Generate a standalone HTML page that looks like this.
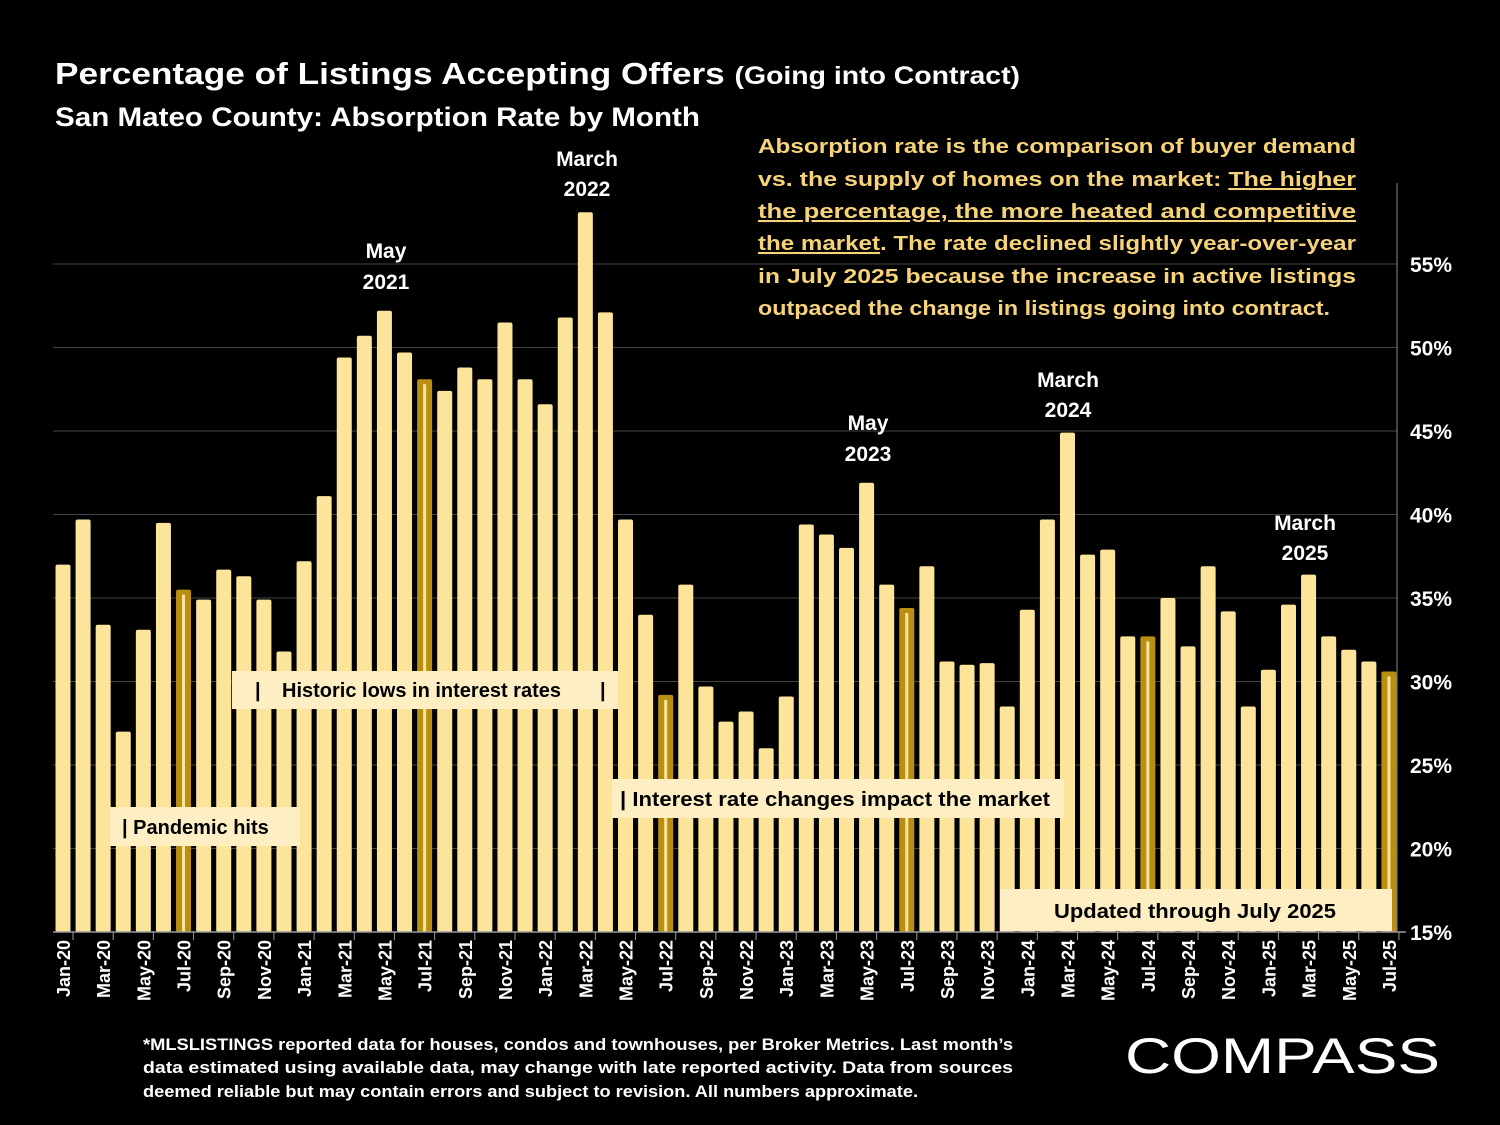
<!DOCTYPE html>
<html><head><meta charset="utf-8"><style>
body{margin:0;background:#000;width:1500px;height:1125px;overflow:hidden;font-family:"Liberation Sans",Arial,sans-serif}
svg{display:block}
</style></head><body>
<svg id="c" width="1500" height="1125">
<text x="55" y="84" fill="#fff" font-size="31" font-weight="bold" textLength="965" lengthAdjust="spacingAndGlyphs">Percentage of Listings Accepting Offers <tspan font-size="25">(Going into Contract)</tspan></text>
<text x="55" y="126" fill="#fff" font-size="27" font-weight="bold" textLength="645" lengthAdjust="spacingAndGlyphs">San Mateo County:  Absorption Rate by Month</text>
<g id="grid"></g><g id="bars"></g><g id="xlab"></g><g id="ylab"></g>
<line x1="1397" y1="183" x2="1397" y2="932" stroke="#888" stroke-width="1"/>
<line x1="53" y1="932" x2="1406" y2="932" stroke="#999" stroke-width="1.5"/>
<g font-size="21" font-weight="bold" fill="#fff" text-anchor="middle">
<text x="587" y="166">March</text><text x="587" y="196">2022</text>
<text x="386" y="258">May</text><text x="386" y="289">2021</text>
<text x="868" y="430">May</text><text x="868" y="461">2023</text>
<text x="1068" y="387">March</text><text x="1068" y="417">2024</text>
<text x="1305" y="530">March</text><text x="1305" y="560">2025</text>
</g>
<g font-size="20" font-weight="bold" fill="#000">
<rect x="232" y="671" width="386" height="38" fill="#fdefc3"/>
<text x="255" y="697">|</text>
<text x="282" y="697">Historic lows in interest rates</text>
<text x="600" y="697">|</text>
<rect x="110" y="807" width="190" height="39" fill="#fdefc3"/>
<text x="122" y="834">| Pandemic hits</text>
<rect x="612" y="779" width="452" height="39" fill="#fdefc3"/>
<text x="620" y="806" textLength="430" lengthAdjust="spacingAndGlyphs">| Interest rate changes impact the market</text>
<rect x="1000" y="889" width="392" height="42" fill="#fdefc3"/>
<text x="1195" y="918" text-anchor="middle" textLength="282" lengthAdjust="spacingAndGlyphs">Updated through July 2025</text>
</g>
<g font-size="20.5" font-weight="bold" fill="#f6d37a">
<text x="758" y="153" textLength="598" lengthAdjust="spacingAndGlyphs">Absorption rate is the comparison of buyer demand</text>
<text x="758" y="186" textLength="598" lengthAdjust="spacingAndGlyphs">vs. the supply of homes on the market: <tspan text-decoration="underline">The higher</tspan></text>
<text x="758" y="218" textLength="598" lengthAdjust="spacingAndGlyphs" text-decoration="underline">the percentage, the more heated and competitive</text>
<text x="758" y="250" textLength="598" lengthAdjust="spacingAndGlyphs"><tspan text-decoration="underline">the market</tspan>.  The rate declined slightly year-over-year</text>
<text x="758" y="283" textLength="598" lengthAdjust="spacingAndGlyphs">in July 2025 because the increase in active listings</text>
<text x="758" y="315" textLength="572" lengthAdjust="spacingAndGlyphs">outpaced the change in listings going into contract.</text>
</g>
<g font-size="17" font-weight="bold" fill="#fff">
<text x="143" y="1050" textLength="870" lengthAdjust="spacingAndGlyphs">*MLSLISTINGS reported data for houses, condos and townhouses, per Broker Metrics. Last month’s</text>
<text x="143" y="1073" textLength="870" lengthAdjust="spacingAndGlyphs">data estimated using available data, may change with late reported activity. Data from sources</text>
<text x="143" y="1097" textLength="775" lengthAdjust="spacingAndGlyphs">deemed reliable but may contain errors and subject to revision. All numbers approximate.</text>
</g>
<text x="1125" y="1073" fill="#fff" font-size="50" textLength="315" lengthAdjust="spacingAndGlyphs">COMPASS</text>
</svg>
<script>
const months=["Jan","Feb","Mar","Apr","May","Jun","Jul","Aug","Sep","Oct","Nov","Dec"];
const categories=[];for(let y=20;y<=25;y++)for(let m=0;m<12;m++){if(y===25&&m>6)break;categories.push(months[m]+"-"+y);}
const values=[37,39.7,33.4,27,33.1,39.5,35.5,34.9,36.7,36.3,34.9,31.8,
37.2,41.1,49.4,50.7,52.2,49.7,48.1,47.4,48.8,48.1,51.5,48.1,
46.6,51.8,58.1,52.1,39.7,34,29.2,35.8,29.7,27.6,28.2,26,
29.1,39.4,38.8,38,41.9,35.8,34.4,36.9,31.2,31,31.1,28.5,
34.3,39.7,44.9,37.6,37.9,32.7,32.7,35,32.1,36.9,34.2,28.5,
30.7,34.6,36.4,32.7,31.9,31.2,30.6];
const yTicks=[15,20,25,30,35,40,45,50,55];
const NS="http://www.w3.org/2000/svg";
const yS=v=>932-(v-15)*16.7;
const xS=i=>63+i*20.09;
const mk=(t,a,p)=>{const e=document.createElementNS(NS,t);for(const k in a)e.setAttribute(k,a[k]);p.appendChild(e);return e;};
const grid=document.getElementById('grid'),ylab=document.getElementById('ylab'),bars=document.getElementById('bars'),xlab=document.getElementById('xlab');
yTicks.forEach(v=>{
 const l=mk('line',{x1:53,x2:1397,y1:yS(v),y2:yS(v),stroke:'#444','stroke-width':1},grid);
 
 
 const t=mk('text',{x:1410,y:yS(v)+8,fill:'#fff','font-size':21,'font-weight':'bold'},ylab);
 t.textContent=v+'%';
 
 
});
values.forEach((v,i)=>{
 const hi=categories[i].startsWith('Jul');
 const x=xS(i)-7.5,y=yS(v),h=932-y;
 const r=mk('rect',{x:x,y:y,width:15,height:h,rx:2,fill:hi?'#b88f12':'#fde49b'},bars);
 
 
 if(hi){const s=mk('rect',{x:xS(i)-1.5,y:y+5,width:3,height:h-5,fill:'#fde49b'},bars);
  
  }
});
categories.forEach((c,i)=>{
 if(i%2)return;
 const x=xS(i);
 const t=mk('text',{x:0,y:0,fill:'#fff','font-size':18,'font-weight':'bold','text-anchor':'end',transform:`translate(${x+7},940) rotate(-90)`},xlab);
 t.textContent=c;
 
 
 const tk=mk('line',{x1:x+10,x2:x+10,y1:932,y2:940,stroke:'#999'},xlab);
 
 
});
</script>
</body></html>
